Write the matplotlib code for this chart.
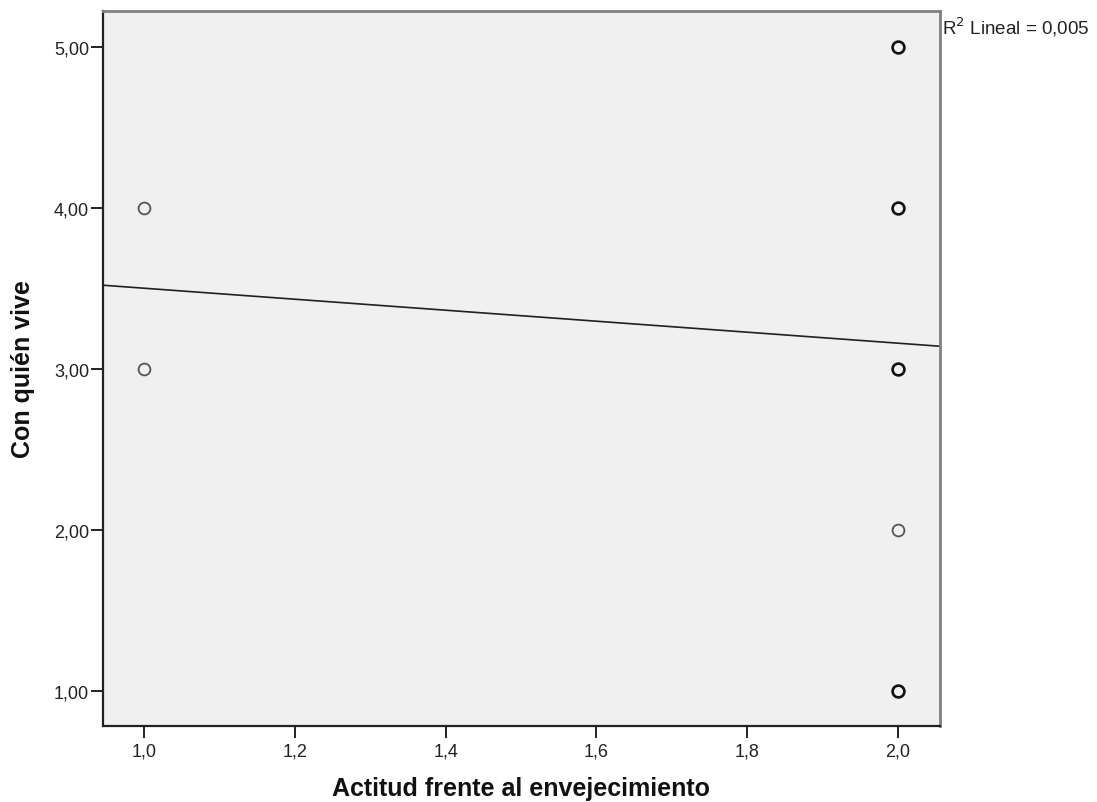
import numpy as np
import matplotlib
matplotlib.use("Agg")
import matplotlib.pyplot as plt

plt.rcParams["font.family"] = ["Liberation Sans", "DejaVu Sans"]

# Datos
actitud = [1.0, 1.0, 2.0, 2.0, 2.0, 2.0, 2.0]
con_quien = [4.0, 3.0, 5.0, 4.0, 3.0, 2.0, 1.0]
# puntos con solapamiento (trazo más oscuro)
solapado = [False, False, True, True, True, False, True]

# Recta de ajuste lineal
intercepto = 3.842
pendiente = -0.341
r2 = "0,005"

x_ticks = [1.0, 1.2, 1.4, 1.6, 1.8, 2.0]
y_ticks = [1.0, 2.0, 3.0, 4.0, 5.0]

fig = plt.figure(figsize=(10.97, 8.03), dpi=100)
ax = fig.add_axes([0.0939, 0.0946, 0.7630, 0.8904])
ax.set_facecolor("#f0f0f0")

xlim = (0.945, 2.056)
ylim = (0.783, 5.222)
ax.set_xlim(*xlim)
ax.set_ylim(*ylim)

xs = np.array(xlim)
ax.plot(xs, intercepto + pendiente * xs, color="#202020", lw=1.2, zorder=2)

for x, y, s in zip(actitud, con_quien, solapado):
    ax.plot(x, y, "o", ms=8.5, mfc="#f0f0f0",
            mec="#111111" if s else "#555555",
            mew=1.9 if s else 1.3, zorder=3)

ax.set_xticks(x_ticks)
ax.set_xticklabels([f"{v:.1f}".replace(".", ",") for v in x_ticks])
ax.set_yticks(y_ticks)
ax.set_yticklabels([f"{v:.2f}".replace(".", ",") for v in y_ticks])
ax.tick_params(direction="out", length=8.5, width=1.4, color="#222222",
               labelsize=13, labelcolor="#222222", pad=1.5)
ax.tick_params(axis="x", pad=3.5)

for side in ("left", "bottom"):
    ax.spines[side].set_color("#222222")
    ax.spines[side].set_linewidth(1.6)
for side in ("top", "right"):
    ax.spines[side].set_color("#808080")
    ax.spines[side].set_linewidth(2.0)

# Títulos de ejes
fig.text(0.475, 0.0174, "Actitud frente al envejecimiento", fontsize=18,
         fontweight="bold", ha="center", va="center", color="#111111")
fig.text(0.021, 0.540, "Con quién vive", fontsize=18, fontweight="bold",
         rotation=90, ha="center", va="center", color="#111111")

fig.text(0.8587, 0.966, r"R$^2$ Lineal = " + r2, fontsize=13.5,
         color="#222222", ha="left", va="center")

fig.savefig("out.png", dpi=100)
plt.close(fig)
